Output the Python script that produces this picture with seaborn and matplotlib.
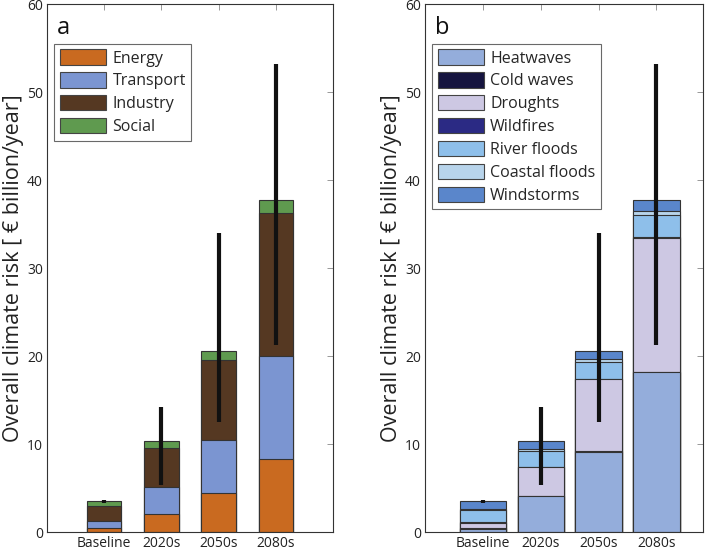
import numpy as np
import pandas as pd
import matplotlib
matplotlib.use("Agg")
import matplotlib.pyplot as plt
from matplotlib.patches import Patch
import seaborn as sns

sns.set_theme(style="white")
plt.rcParams['font.family'] = ['Open Sans', 'DejaVu Sans']

# 数据
periods = ['Baseline', '2020s', '2050s', '2080s']

sectors = ['Energy', 'Transport', 'Industry', 'Social']
energy = [0.5, 2.0, 4.4, 8.25]
transport = [0.8, 3.15, 6.1, 11.75]
industry = [1.65, 4.45, 9.1, 16.3]
social = [0.55, 0.7, 1.0, 1.4]
sector_colors = ['#c96a20', '#7b95d1', '#553822', '#5f9a4f']

hazards = ['Heatwaves', 'Cold waves', 'Droughts', 'Wildfires',
           'River floods', 'Coastal floods', 'Windstorms']
heatwaves = [0.3, 4.1, 9.15, 18.2]
cold_waves = [0.15, 0.02, 0.02, 0.02]
droughts = [0.55, 3.25, 8.2, 15.2]
wildfires = [0.15, 0.05, 0.05, 0.08]
river_floods = [1.35, 1.8, 1.95, 2.6]
coastal_floods = [0.1, 0.18, 0.25, 0.45]
windstorms = [0.9, 0.9, 1.0, 1.15]
hazard_colors = ['#94addb', '#15143f', '#cdc8e3', '#2b2a84',
                 '#8ebfea', '#b8d4eb', '#5a86cb']

err_low = [3.35, 5.3, 12.5, 21.3]
err_high = [3.6, 14.2, 34.0, 53.2]


def stacked_panel(ax, layers, names, colors, width, xmax, letter):
    df = pd.DataFrame(dict(zip(names, layers)), index=periods)
    cum = df.cumsum(axis=1)
    # 从最上层开始画，累计高度覆盖
    for name, col in reversed(list(zip(names, colors))):
        sns.barplot(x=periods, y=cum[name].values, color=col, width=width,
                    saturation=1, edgecolor='#333333', linewidth=0.8, ax=ax)
    ax.vlines(np.arange(len(periods)), err_low, err_high, color='#111111',
              linewidth=3, zorder=5)
    ax.set_xlim(-1, xmax)
    ax.set_ylim(0, 60)
    ax.set_yticks(range(0, 61, 10))
    ax.set_ylabel('Overall climate risk [ € billion/year]', fontsize=15.5,
                  color='#222222', labelpad=2)
    ax.set_xlabel('')
    ax.tick_params(direction='in', length=4, width=0.6, color='#888888',
                   top=True, right=True, labelsize=10, labelcolor='#222222',
                   pad=3)
    for s in ax.spines.values():
        s.set_color('#333333')
        s.set_linewidth(0.8)
    ax.text(0.035, 0.978, letter, transform=ax.transAxes, fontsize=17,
            va='top', ha='left', color='#111111')
    handles = [Patch(facecolor=c, edgecolor='#444444', linewidth=0.8)
               for c in colors]
    leg = ax.legend(handles, names, loc='upper left',
                    bbox_to_anchor=(0.025, 0.925), fontsize=11.5,
                    handlelength=2.9, handleheight=1.1, labelspacing=0.36,
                    handletextpad=0.4, borderpad=0.35, borderaxespad=0,
                    frameon=True, fancybox=False, edgecolor='#444444')
    leg.get_frame().set_linewidth(0.8)


fig = plt.figure(figsize=(7.14, 5.5), dpi=100)
ax1 = fig.add_axes([0.0658, 0.0327, 0.4006, 0.9595])
ax2 = fig.add_axes([0.5952, 0.0327, 0.389, 0.9595])

stacked_panel(ax1, [energy, transport, industry, social], sectors,
              sector_colors, 0.6, 4.0, 'a')
stacked_panel(ax2, [heatwaves, cold_waves, droughts, wildfires,
                    river_floods, coastal_floods, windstorms], hazards,
              hazard_colors, 0.8, 3.8, 'b')

fig.savefig('out.png', dpi=100)
